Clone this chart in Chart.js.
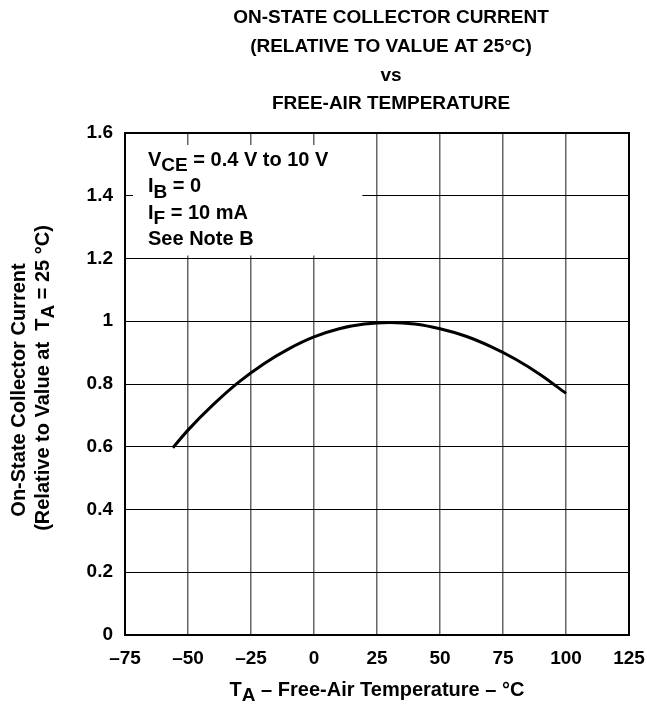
<!DOCTYPE html>
<html>
<head>
<meta charset="utf-8">
<script src="https://cdn.jsdelivr.net/npm/chart.js@4.4.1/dist/chart.umd.min.js"></script>
<style>
  html, body { margin: 0; padding: 0; background: #fff; }
  #wrap { width: 647px; height: 709px; }
</style>
</head>
<body>
<div id="wrap"><canvas id="chart" width="647" height="709"></canvas></div>
<script>
(function () {
  // curve
  var TEMPS = [-56, -50, -40, -30, -20, -10, 0, 10, 20, 30, 40, 50, 60, 70, 80, 90, 100];
  var RATIO = [0.597, 0.653, 0.734, 0.805, 0.864, 0.912, 0.95, 0.976, 0.991, 0.996, 0.991, 0.976, 0.953, 0.92, 0.879, 0.829, 0.77];
  var X_TICKS = [-75, -50, -25, 0, 25, 50, 75, 100, 125];
  var Y_TICKS = [0, 0.2, 0.4, 0.6, 0.8, 1, 1.2, 1.4, 1.6];

  var TITLE_LINES = [
    'ON-STATE COLLECTOR CURRENT',
    '(RELATIVE TO VALUE AT 25°C)',
    'vs',
    'FREE-AIR TEMPERATURE'
  ];
  // [text, isSubscript]
  var NOTE_LINES = [
    [['V', 0], ['CE', 1], [' = 0.4 V to 10 V', 0]],
    [['I', 0], ['B', 1], [' = 0', 0]],
    [['I', 0], ['F', 1], [' = 10 mA', 0]],
    [['See Note B', 0]]
  ];
  var Y_TITLE_1 = [['On-State Collector Current', 0]];
  var Y_TITLE_2 = [['(Relative to Value at  T', 0], ['A', 1], [' = 25 °C)', 0]];
  var X_TITLE = [['T', 0], ['A', 1], [' – Free-Air Temperature – °C', 0]];

  var FONT = '"Liberation Sans", Arial, Helvetica, sans-serif';

  function fmtX(v) { return v < 0 ? '–' + Math.abs(v) : String(v); }
  function fmtY(v) { return (v === 0 || v === 1) ? String(v) : v.toFixed(1); }

  function font(size) { return 'bold ' + size + 'px ' + FONT; }

  function runsWidth(c, runs, size) {
    var w = 0;
    runs.forEach(function (r) {
      c.font = font(r[1] ? size * 0.95 : size);
      w += c.measureText(r[0]).width;
    });
    return w;
  }

  // text runs with subscripts, from left x on a middle baseline y
  function drawRuns(c, runs, x, y, size) {
    c.textBaseline = 'middle';
    c.textAlign = 'left';
    runs.forEach(function (r) {
      c.font = font(r[1] ? size * 0.95 : size);
      c.fillText(r[0], x, r[1] ? y + size * 0.3 : y);
      x += c.measureText(r[0]).width;
    });
  }

  function drawRunsCentered(c, runs, cx, y, size) {
    drawRuns(c, runs, cx - runsWidth(c, runs, size) / 2, y, size);
  }

  var decorPlugin = {
    id: 'decor',
    beforeDatasetsDraw: function (chart) {
      var c = chart.ctx;
      var xs = chart.scales.x, ys = chart.scales.y;
      // note box masks the grid
      var l = xs.getPixelForValue(-75) + 8;
      var r = xs.getPixelForValue(20) - 2;
      var t = ys.getPixelForValue(1.6) + 12;
      var b = ys.getPixelForValue(1.2) - 3;
      c.save();
      c.fillStyle = '#fff';
      c.fillRect(l, t, r - l, b - t);
      c.fillStyle = '#000';
      NOTE_LINES.forEach(function (runs, i) {
        drawRuns(c, runs, l + 15, t + 15 + i * 26.5, 20);
      });
      c.restore();
    },
    afterDraw: function (chart) {
      var c = chart.ctx;
      var a = chart.chartArea;
      var cx = (a.left + a.right) / 2;
      var cy = (a.top + a.bottom) / 2;
      c.save();
      c.strokeStyle = '#000';
      c.lineWidth = 2;
      c.strokeRect(a.left, a.top, a.right - a.left, a.bottom - a.top);

      c.fillStyle = '#000';
      c.textAlign = 'center';
      c.textBaseline = 'middle';
      c.font = font(19);
      TITLE_LINES.forEach(function (s, i) {
        c.fillText(s, cx + 14, 18 + i * 28.7);
      });

      drawRunsCentered(c, X_TITLE, cx, 690, 20);

      c.translate(0, cy);
      c.rotate(-Math.PI / 2);
      drawRunsCentered(c, Y_TITLE_1, -6, 19, 20);
      drawRunsCentered(c, Y_TITLE_2, 6, 43, 20);
      c.restore();
    }
  };

  new Chart(document.getElementById('chart'), {
    type: 'line',
    data: {
      datasets: [{
        data: TEMPS.map(function (t, i) { return { x: t, y: RATIO[i] }; }),
        borderColor: '#000',
        borderWidth: 3,
        pointRadius: 0,
        fill: false,
        cubicInterpolationMode: 'monotone'
      }]
    },
    options: {
      responsive: false,
      animation: false,
      layout: { padding: { top: 133, right: 18, left: 0, bottom: 0 } },
      plugins: { legend: { display: false }, tooltip: { enabled: false } },
      scales: {
        x: {
          type: 'linear',
          min: -75,
          max: 125,
          afterBuildTicks: function (s) { s.ticks = X_TICKS.map(function (v) { return { value: v }; }); },
          afterFit: function (s) { s.height = 74; s.paddingLeft = 0; s.paddingRight = 0; },
          ticks: {
            color: '#000',
            font: { family: FONT, size: 19, weight: 'bold' },
            padding: 12,
            maxRotation: 0,
            autoSkip: false,
            callback: function (v) { return fmtX(v); }
          },
          grid: { color: '#666', lineWidth: 1.5, drawTicks: false },
          border: { display: false }
        },
        y: {
          min: 0,
          max: 1.6,
          afterBuildTicks: function (s) { s.ticks = Y_TICKS.map(function (v) { return { value: v }; }); },
          afterFit: function (s) { s.width = 125; s.paddingTop = 0; s.paddingBottom = 0; },
          ticks: {
            color: '#000',
            font: { family: FONT, size: 19, weight: 'bold' },
            padding: 12,
            autoSkip: false,
            callback: function (v) { return fmtY(v); }
          },
          grid: { color: '#000', lineWidth: 1, drawTicks: false },
          border: { display: false }
        }
      }
    },
    plugins: [decorPlugin]
  });
})();
</script>
</body>
</html>
